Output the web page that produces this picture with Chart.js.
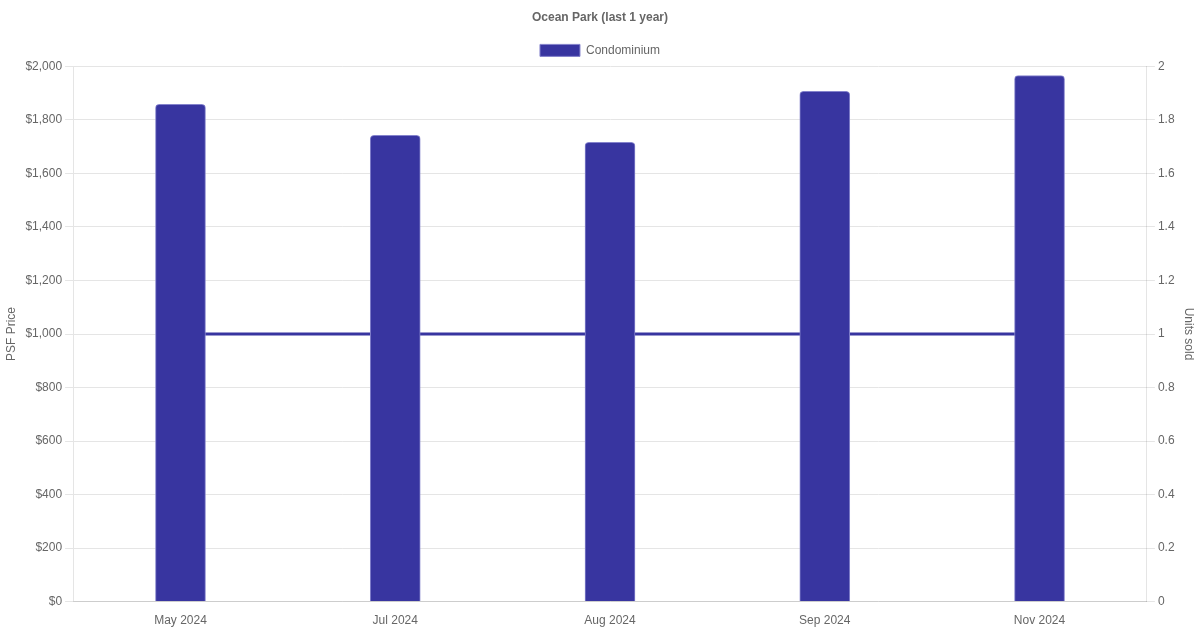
<!DOCTYPE html>
<html>
<head>
<meta charset="utf-8">
<script src="https://cdn.jsdelivr.net/npm/chart.js@4"></script>
<style>
	html, body { margin: 0; padding: 0; background: #fff; }
	#wrap { width: 1200px; height: 630px; }
</style>
</head>
<body>
<div id="wrap"><canvas id="chart"></canvas></div>
<script>
const months = ["May 2024", "Jul 2024", "Aug 2024", "Sep 2024", "Nov 2024"]
const psfPrice = [1858, 1742, 1716, 1907, 1966]
const unitsSold = [1, 1, 1, 1, 1]

Chart.defaults.font.family = "'Liberation Sans', Arial, sans-serif"
Chart.defaults.font.size = 12
Chart.defaults.color = "#666"

let chart = new Chart(document.getElementById("chart"), {
	data: {
		labels: months,
		datasets: [{
			type: 'line',
			label: 'Units sold',
			data: unitsSold,
			yAxisID: 'y1',
			borderColor: '#3835a0',
			backgroundColor: '#3835a0',
			borderWidth: 3,
			pointRadius: 0,
			order: 2,
		}, {
			type: 'bar',
			label: 'Condominium',
			data: psfPrice,
			yAxisID: 'y',
			backgroundColor: '#3835a0',
			borderColor: '#8483cc',
			borderWidth: 1,
			borderRadius: 4,
			borderSkipped: 'bottom',
			barThickness: 50,
			order: 1,
		}],
	},
	options: {
		animation: false,
		responsive: true,
		maintainAspectRatio: false,
		layout: { padding: { left: 0, right: 0, top: 0, bottom: -2 } },
		plugins: {
			title: {
				display: true,
				text: 'Ocean Park (last 1 year)',
				font: { size: 12, weight: 'bold' },
				padding: { top: 10, bottom: 10 },
			},
			legend: {
				labels: {
					filter: (item) => item.text === 'Condominium',
					boxWidth: 40,
					boxHeight: 12,
				},
			},
			tooltip: { enabled: false },
		},
		scales: {
			x: {
				grid: { display: false },
				ticks: { padding: 4 },
			},
			y: {
				position: 'left',
				min: 0,
				max: 2000,
				ticks: {
					stepSize: 200,
					callback: (v) => '$' + v.toLocaleString('en-US'),
				},
				title: { display: true, text: 'PSF Price' },
				grid: { color: '#e5e5e5' },
			},
			y1: {
				position: 'right',
				min: 0,
				max: 2,
				ticks: {
					stepSize: 0.2,
					callback: (v) => String(Math.round(v * 10) / 10),
				},
				title: { display: true, text: 'Units sold' },
				grid: { drawOnChartArea: false },
			},
		},
	},
})
</script>
</body>
</html>
